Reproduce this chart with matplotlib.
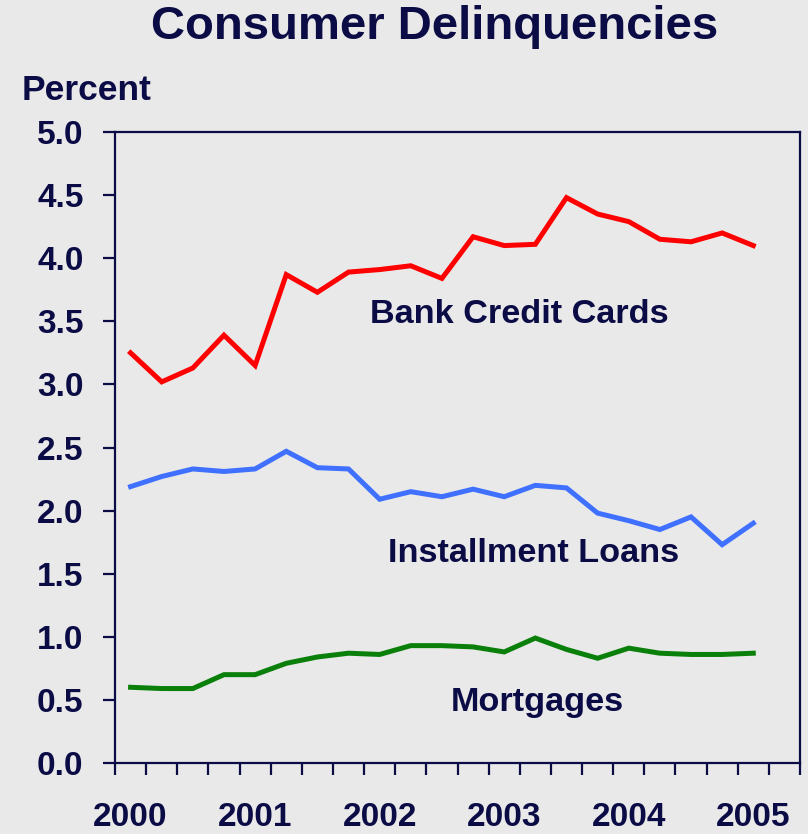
import numpy as np
import matplotlib
matplotlib.use('Agg')
import matplotlib.pyplot as plt
from matplotlib.ticker import FixedLocator, FixedFormatter

# quarterly data, 2000 Q1 .. 2005 Q1
credit_cards = [3.25, 3.02, 3.13, 3.39, 3.15, 3.87, 3.73, 3.89, 3.91, 3.94, 3.84,
                4.17, 4.10, 4.11, 4.48, 4.35, 4.29, 4.15, 4.13, 4.20, 4.10]
installment = [2.19, 2.27, 2.33, 2.31, 2.33, 2.47, 2.34, 2.33, 2.09, 2.15, 2.11,
               2.17, 2.11, 2.20, 2.18, 1.98, 1.92, 1.85, 1.95, 1.73, 1.90]
mortgages = [0.60, 0.59, 0.59, 0.70, 0.70, 0.79, 0.84, 0.87, 0.86, 0.93, 0.93,
             0.92, 0.88, 0.99, 0.90, 0.83, 0.91, 0.87, 0.86, 0.86, 0.87]
years = ['2000', '2001', '2002', '2003', '2004', '2005']
y_ticks = [0.0, 0.5, 1.0, 1.5, 2.0, 2.5, 3.0, 3.5, 4.0, 4.5, 5.0]

navy = '#0b0b45'
bg = '#e9e9e9'

plt.rcParams['font.family'] = ['Liberation Sans', 'DejaVu Sans']
plt.rcParams['font.weight'] = 'bold'

fig = plt.figure(figsize=(8.08, 8.34), dpi=100, facecolor=bg)
ax = fig.add_axes([115 / 808, 71 / 834, 685 / 808, 631 / 834], facecolor=bg)

x = np.arange(len(credit_cards))
ax.plot(x, credit_cards, color='#ff0000', lw=3.6, solid_joinstyle='miter')
ax.plot(x, installment, color='#4070ff', lw=3.6, solid_joinstyle='miter')
ax.plot(x, mortgages, color='#0a800a', lw=3.6, solid_joinstyle='miter')

ax.set_xlim(-0.5, 21.5)
ax.set_ylim(0, 5)

for s in ax.spines.values():
    s.set_color(navy)
    s.set_linewidth(1.6)

ax.set_yticks(y_ticks)
ax.set_yticklabels([f'{v:.1f}' for v in y_ticks])
ax.tick_params(axis='y', direction='out', length=8.6, width=1.6, color=navy,
               labelsize=24, labelcolor=navy, pad=14)

ax.xaxis.set_major_locator(FixedLocator(np.arange(0, 21, 4)))
ax.xaxis.set_major_formatter(FixedFormatter(years))
ax.xaxis.set_minor_locator(FixedLocator(np.arange(-0.5, 22, 1)))
ax.tick_params(axis='x', which='major', length=0, labelsize=24, labelcolor=navy, pad=28)
ax.tick_params(axis='x', which='minor', direction='out', length=8.6, width=1.6, color=navy)

fig.text(435 / 808, 1 - 27 / 834, 'Consumer Delinquencies', ha='center', va='center',
         fontsize=34, color=navy, fontweight='bold')
fig.text(22 / 808, 1 - 91 / 834, 'Percent', ha='left', va='center',
         fontsize=25.5, color=navy, fontweight='bold')

ax.text(12.47, 3.55, 'Bank Credit Cards', ha='center', va='center', fontsize=24.7, color=navy)
ax.text(12.95, 1.66, 'Installment Loans', ha='center', va='center', fontsize=24.7, color=navy)
ax.text(13.05, 0.48, 'Mortgages', ha='center', va='center', fontsize=24.7, color=navy)

fig.savefig('out.png', dpi=100, facecolor=bg)
